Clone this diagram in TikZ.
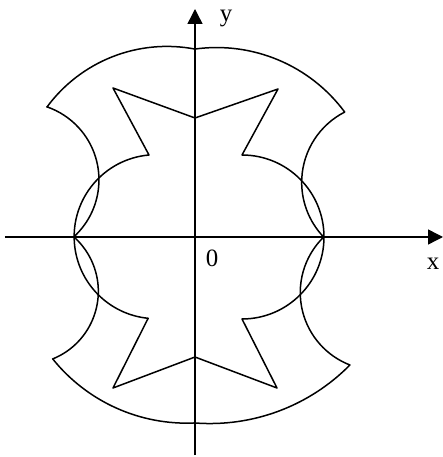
\documentclass[tikz,border=0pt]{standalone}
\usepackage{fontspec}
\setmainfont{Liberation Serif}
\usepackage{tikz}
\usetikzlibrary{arrows.meta}
\tikzstyle{axis} = [-{Triangle[length=15bp,width=15bp]}, line width=1.4bp]
\tikzstyle{contour} = [line width=1.5bp, line join=round]
\tikzstyle{lbl} = [font=\fontsize{25}{30}\selectfont, inner sep=0pt]

\begin{document}
\begin{tikzpicture}[x=1bp, y=1bp]
    \useasboundingbox (-195,-220) rectangle (248,237);

    % axes
    \coordinate (xstart) at (-190,0);
    \coordinate (xend) at (248,0);
    \coordinate (ystart) at (0,-218);
    \coordinate (yend) at (0,228);
    \draw[axis] (xstart) -- (xend);
    \draw[axis] (ystart) -- (yend);
    \node[lbl] (xlabel) at (238,-27) {x};
    \node[lbl] (ylabel) at (31,219) {y};
    \node[lbl] (origin) at (17,-21) {0};

    % outer contour
    \draw[contour] (-148,130)
        arc[start angle=143.6, end angle=79.2, radius=149]
        arc[start angle=97.9, end angle=36.5, radius=159.2]
        arc[start angle=117.1, end angle=223.8, radius=79]
        arc[start angle=134.3, end angle=248.9, radius=77.6]
        arc[start angle=-44.6, end angle=-94.4, radius=196.6]
        arc[start angle=272.7, end angle=218.8, radius=172]
        arc[start angle=-68, end angle=48.4, radius=72.9]
        arc[start angle=-47.6, end angle=71.1, radius=77.2]
        -- cycle;

    % inner star with the two circles
    \draw[contour] (0,119) -- (-82,149) -- (-46,82)
        arc[start angle=95, end angle=264.4, radius=82]
        -- (-82,-151) -- (0,-120) -- (82,-151) -- (47,-82)
        arc[start angle=-90, end angle=90, radius=82]
        -- (83,148) -- cycle;
\end{tikzpicture}
\end{document}
